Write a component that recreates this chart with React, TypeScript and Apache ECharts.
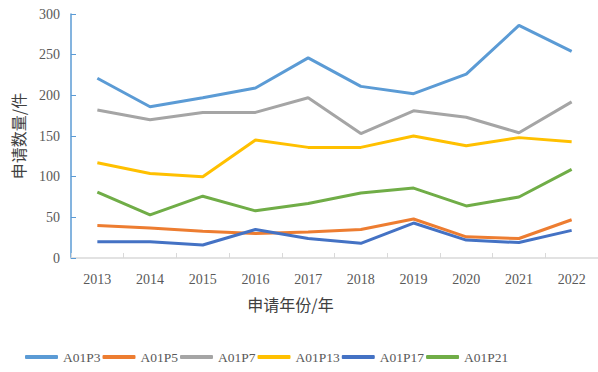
import React, { useEffect, useRef } from "react";
import * as echarts from "echarts";

const years = ["2013", "2014", "2015", "2016", "2017", "2018", "2019", "2020", "2021", "2022"];
const seriesNames = ["A01P3", "A01P5", "A01P7", "A01P13", "A01P17", "A01P21"];
const a01p3 = [221, 186, 197, 209, 246, 211, 202, 226, 286, 254];
const a01p5 = [40, 37, 33, 30, 32, 35, 48, 26, 24, 47];
const a01p7 = [182, 170, 179, 179, 197, 153, 181, 173, 154, 192];
const a01p13 = [117, 104, 100, 145, 136, 136, 150, 138, 148, 143];
const a01p17 = [20, 20, 16, 35, 24, 18, 43, 22, 19, 34];
const a01p21 = [81, 53, 76, 58, 67, 80, 86, 64, 75, 109];
const colors = ["#5B9BD5", "#ED7D31", "#A5A5A5", "#FFC000", "#4472C4", "#70AD47"];

export default function App() {
  const ref = useRef<HTMLDivElement>(null);
  useEffect(() => {
    if (!ref.current) return;
    const chart = echarts.init(ref.current, undefined, { renderer: "svg" });
    const data = [a01p3, a01p5, a01p7, a01p13, a01p17, a01p21];
    const serif = "'Liberation Serif', 'Times New Roman', serif";
    const cjk = "'Noto Sans CJK SC', sans-serif";
    chart.setOption({
      animation: false,
      color: colors,
      grid: { left: 71, top: 14, bottom: 114, right: -9, containLabel: false },
      legend: {
        left: 20,
        top: 345,
        icon: "roundRect",
        itemWidth: 33,
        itemHeight: 4,
        itemGap: 2,
        textStyle: { fontFamily: serif, fontSize: 13.5, color: "#595959" },
        data: seriesNames,
      },
      xAxis: {
        type: "category",
        data: years,
        boundaryGap: true,
        axisLine: { lineStyle: { color: "#D9D9D9", width: 1.5 } },
        axisTick: { show: true, inside: true, length: 5, interval: 0, lineStyle: { color: "#D9D9D9" } },
        axisLabel: { fontFamily: serif, fontSize: 14, color: "#595959", margin: 14, interval: 0 },
        name: "申请年份/年",
        nameLocation: "middle",
        nameGap: 38,
        nameTextStyle: { fontFamily: cjk, fontSize: 16, color: "#404040", padding: [0, 88, 0, 0] },
      },
      yAxis: {
        type: "value",
        min: 0,
        max: 300,
        interval: 50,
        axisLine: { show: true, lineStyle: { color: "#5B9BD5", width: 1.5 } },
        axisTick: { show: true, inside: true, length: 5, lineStyle: { color: "#5B9BD5" } },
        splitLine: { show: false },
        axisLabel: { fontFamily: serif, fontSize: 14, color: "#595959", margin: 11 },
        name: "申请数量/件",
        nameLocation: "middle",
        nameRotate: 90,
        nameGap: 45,
        nameTextStyle: { fontFamily: cjk, fontSize: 16, color: "#404040" },
      },
      series: seriesNames.map((n, i) => ({
        name: n,
        type: "line",
        data: data[i],
        showSymbol: false,
        symbol: "none",
        lineStyle: { width: 3, color: colors[i] },
        itemStyle: { color: colors[i] },
      })),
    });
    return () => chart.dispose();
  }, []);
  return <div ref={ref} style={{ width: 598, height: 372, position: "absolute", left: 0, top: 0 }} />;
}
